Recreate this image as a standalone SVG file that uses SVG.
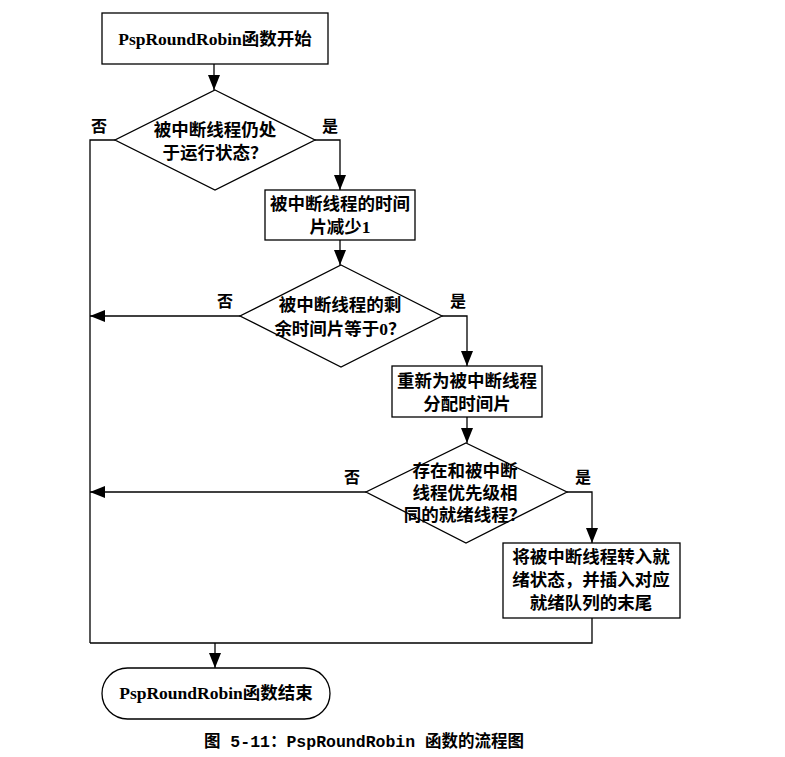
<svg xmlns="http://www.w3.org/2000/svg" width="785" height="757" viewBox="0 0 785 757">
<defs>
<marker id="arr" markerUnits="userSpaceOnUse" markerWidth="16" markerHeight="12" refX="15" refY="6" orient="auto">
<path d="M0,0 L15,6 L0,12 z" fill="#000"/>
</marker>
<style>
.shape{fill:#fff;stroke:#000;stroke-width:1.3}
.conn{fill:none;stroke:#000;stroke-width:1.3}
.t{font-family:"Liberation Serif","Noto Sans CJK SC",serif;font-weight:bold;font-size:17.5px;fill:#000;text-anchor:middle;dominant-baseline:central}
.lbl{font-family:"Liberation Serif","Noto Sans CJK SC",serif;font-weight:bold;font-size:16px;fill:#000;text-anchor:middle;dominant-baseline:central}
.cap{font-family:"Liberation Mono","Noto Sans CJK SC",monospace;font-weight:bold;font-size:16.5px;fill:#000;text-anchor:middle;dominant-baseline:central}
</style>
</defs>
<rect width="785" height="757" fill="#fff"/>
<g id="connectors">
<path class="conn" d="M214,64 L214,90" marker-end="url(#arr)"/>
<path class="conn" d="M315,140 L340,140 L340,190" marker-end="url(#arr)"/>
<path class="conn" d="M115,140 L90,140 L90,643"/>
<path class="conn" d="M340,240 L340,265" marker-end="url(#arr)"/>
<path class="conn" d="M442,316 L467,316 L467,366" marker-end="url(#arr)"/>
<path class="conn" d="M240,316 L90,316" marker-end="url(#arr)"/>
<path class="conn" d="M467,417 L467,443" marker-end="url(#arr)"/>
<path class="conn" d="M567,492 L592,492 L592,543" marker-end="url(#arr)"/>
<path class="conn" d="M366,492 L90,492" marker-end="url(#arr)"/>
<path class="conn" d="M592,618 L592,643 L90,643"/>
<path class="conn" d="M215,643 L215,668" marker-end="url(#arr)"/>
<text class="lbl" x="99" y="126">否</text>
<text class="lbl" x="330" y="126">是</text>
<text class="lbl" x="225" y="301">否</text>
<text class="lbl" x="458" y="301">是</text>
<text class="lbl" x="352" y="477">否</text>
<text class="lbl" x="583" y="477">是</text>
</g>
<g id="start">
<rect class="shape" x="102" y="13" width="226" height="51"/>
<text class="t" x="215" y="39">PspRoundRobin函数开始</text>
</g>
<g id="decision1">
<polygon class="shape" points="215,90 315,140 215,190 115,140"/>
<text class="t" x="215" y="130">被中断线程仍处</text>
<text class="t" x="215" y="153">于运行状态？</text>
</g>
<g id="box2">
<rect class="shape" x="265" y="190" width="150" height="50"/>
<text class="t" x="340" y="204">被中断线程的时间</text>
<text class="t" x="340" y="227">片减少1</text>
</g>
<g id="decision2">
<polygon class="shape" points="341,265 442,316 341,367 240,316"/>
<text class="t" x="340" y="305">被中断线程的剩</text>
<text class="t" x="340" y="329">余时间片等于0？</text>
</g>
<g id="box3">
<rect class="shape" x="392" y="366" width="150" height="51"/>
<text class="t" x="467" y="381">重新为被中断线程</text>
<text class="t" x="467" y="404">分配时间片</text>
</g>
<g id="decision3">
<polygon class="shape" points="466,443 567,492 466,543 366,492"/>
<text class="t" x="465" y="471">存在和被中断</text>
<text class="t" x="465" y="493">线程优先级相</text>
<text class="t" x="465" y="515">同的就绪线程？</text>
</g>
<g id="box4">
<rect class="shape" x="503" y="543" width="177" height="75"/>
<text class="t" x="591" y="557">将被中断线程转入就</text>
<text class="t" x="591" y="580">绪状态，并插入对应</text>
<text class="t" x="591" y="603">就绪队列的末尾</text>
</g>
<g id="end">
<rect class="shape" x="102" y="668" width="228" height="51" rx="25.5" ry="25.5"/>
<text class="t" x="216" y="693">PspRoundRobin函数结束</text>
</g>
<g id="caption">
<text class="cap" x="364" y="742">图 5-11：PspRoundRobin 函数的流程图</text>
</g>
</svg>
